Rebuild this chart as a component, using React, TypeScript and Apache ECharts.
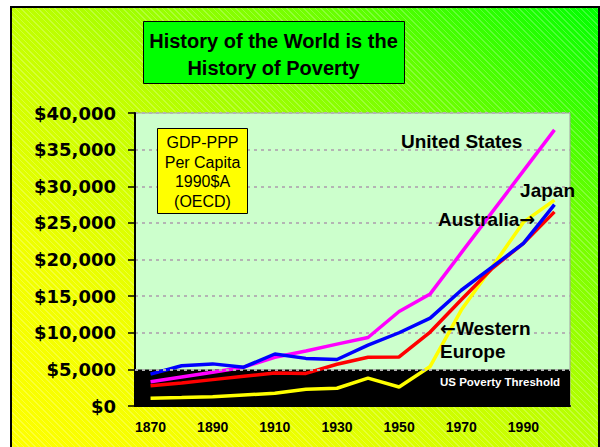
import React, { useEffect, useRef } from "react";
import * as echarts from "echarts";

// ---- Data ----
const years = ["1870", "1880", "1890", "1900", "1910", "1920", "1930", "1940", "1950", "1960", "1970", "1980", "1990", "2000"];
const unitedStates = [3320, 3970, 4620, 5300, 6650, 7500, 8450, 9350, 12900, 15300, 20900, 26500, 32100, 37700];
const westernEurope = [2750, 3150, 3600, 4050, 4500, 4450, 5700, 6650, 6700, 10100, 14500, 18800, 22200, 26500];
const australia = [4350, 5500, 5750, 5300, 7100, 6500, 6350, 8300, 10000, 12000, 15800, 19000, 22200, 27500];
const japan = [1050, 1150, 1270, 1500, 1730, 2280, 2420, 3800, 2600, 5400, 13100, 19000, 25100, 28100];
const povertyThreshold = 5000;
const yMin = 0;
const yMax = 40000;
const yStep = 5000;

const titleLines = ["History of the World is the", "History of Poverty"];
const noteLines = ["GDP-PPP", "Per Capita", "1990$A", "(OECD)"];

const ARIAL = "'Liberation Sans', Arial, sans-serif";
const ARROW_RICH = { arr: { fontFamily: "'DejaVu Sans', sans-serif", fontWeight: "bold", fontSize: 19, fill: "#000" } };

export default function App() {
  const ref = useRef<HTMLDivElement>(null);

  useEffect(() => {
    if (!ref.current) return;
    const chart = echarts.init(ref.current, undefined, { renderer: "svg" });
    const lineSeries = (name: string, data: number[], color: string) => ({
      name,
      type: "line",
      data,
      z: 3,
      symbol: "none",
      lineStyle: { color, width: 3.5 },
      itemStyle: { color },
    });
    chart.setOption({
      animation: false,
      backgroundColor: "transparent",
      grid: {
        left: 135,
        right: 30,
        top: 113,
        bottom: 41,
        show: true,
        backgroundColor: "#CCFFCC",
        borderColor: "#A0A0A0",
        borderWidth: 1,
        outerBoundsMode: "none",
        containLabel: false,
      },
      xAxis: {
        type: "category",
        data: years,
        boundaryGap: true,
        axisLine: { lineStyle: { color: "#000", width: 2 } },
        axisTick: { show: false },
        axisLabel: {
          interval: 1,
          margin: 14,
          fontFamily: ARIAL,
          fontWeight: "bold",
          fontSize: 14,
          color: "#000",
        },
        splitLine: { show: false },
      },
      yAxis: {
        type: "value",
        min: yMin,
        max: yMax,
        interval: yStep,
        axisLine: { show: true, lineStyle: { color: "#000", width: 2 } },
        axisTick: { show: true, length: 7, lineStyle: { color: "#000", width: 1.5 } },
        axisLabel: {
          margin: 19,
          fontFamily: "'DejaVu Sans', sans-serif",
          fontWeight: "bold",
          fontSize: 18,
          color: "#000",
          formatter: (v: number) => "$" + v.toLocaleString("en-US"),
        },
        splitLine: { show: true, lineStyle: { color: "#B4B4B4", type: [3, 4], width: 2 } },
      },
      series: [
        {
          name: "band",
          type: "line",
          data: japan,
          z: 1,
          silent: true,
          symbol: "none",
          lineStyle: { opacity: 0 },
          markArea: {
            silent: true,
            itemStyle: { color: "#000000", opacity: 1 },
            data: [[{ yAxis: yMin }, { yAxis: povertyThreshold }]],
          },
          markLine: {
            silent: true,
            symbol: "none",
            label: { show: false },
            lineStyle: { color: "#B4B4B4", type: [3, 4], width: 2 },
            data: [{ yAxis: povertyThreshold }],
          },
        },
        lineSeries("Japan", japan, "#FFFF00"),
        lineSeries("Western Europe", westernEurope, "#FF0000"),
        lineSeries("United States", unitedStates, "#FF00FF"),
        lineSeries("Australia", australia, "#0000FF"),
      ],
      graphic: [
        {
          type: "rect",
          z: 10,
          shape: { x: 143.5, y: 21.5, width: 261, height: 62 },
          style: { fill: "#00FF00", stroke: "#000", lineWidth: 1 },
        },
        {
          type: "text",
          z: 11,
          x: 273.5,
          y: 54.5,
          style: {
            text: titleLines.join("\n"),
            font: `bold 20px ${ARIAL}`,
            fill: "#000",
            align: "center",
            verticalAlign: "middle",
            lineHeight: 27,
          },
        },
        {
          type: "rect",
          z: 10,
          shape: { x: 157.5, y: 128.5, width: 90, height: 85 },
          style: { fill: "#FFFF00", stroke: "#000", lineWidth: 1 },
        },
        {
          type: "text",
          z: 11,
          x: 202.5,
          y: 172,
          style: {
            text: noteLines.join("\n"),
            font: `16px ${ARIAL}`,
            fill: "#000",
            align: "center",
            verticalAlign: "middle",
            lineHeight: 19.5,
          },
        },
        {
          type: "text",
          z: 11,
          x: 401,
          y: 141,
          style: { text: "United States", font: `bold 19px ${ARIAL}`, fill: "#000", align: "left", verticalAlign: "middle" },
        },
        {
          type: "text",
          z: 11,
          x: 575,
          y: 190,
          style: { text: "Japan", font: `bold 19px ${ARIAL}`, fill: "#000", align: "right", verticalAlign: "middle" },
        },
        {
          type: "text",
          z: 11,
          x: 438,
          y: 219,
          style: {
            text: "Australia{arr|\u2192}",
            font: `bold 19px ${ARIAL}`,
            fill: "#000",
            align: "left",
            verticalAlign: "middle",
            rich: ARROW_RICH,
          },
        },
        {
          type: "text",
          z: 11,
          x: 440,
          y: 328,
          style: {
            text: "{arr|\u2190}Western",
            font: `bold 19px ${ARIAL}`,
            fill: "#000",
            align: "left",
            verticalAlign: "middle",
            rich: ARROW_RICH,
          },
        },
        {
          type: "text",
          z: 11,
          x: 440,
          y: 351,
          style: { text: "Europe", font: `bold 19px ${ARIAL}`, fill: "#000", align: "left", verticalAlign: "middle" },
        },
        {
          type: "text",
          z: 11,
          x: 440,
          y: 382,
          style: { text: "US Poverty Threshold", font: `bold 11.5px ${ARIAL}`, fill: "#FFFFFF", align: "left", verticalAlign: "middle" },
        },
      ],
    });
    return () => chart.dispose();
  }, []);

  return (
    <div style={{ position: "fixed", left: 0, top: 0, width: 600, height: 447, background: "#FFFFFF", overflow: "hidden" }}>
      <div
        style={{
          position: "absolute",
          left: 10,
          top: 6,
          width: 590,
          height: 460,
          boxSizing: "border-box",
          border: "2px solid #000",
          background:
            "repeating-linear-gradient(45deg, rgba(255,255,255,0.22) 0px, rgba(255,255,255,0.22) 1px, rgba(255,255,255,0) 1px, rgba(255,255,255,0) 4px), linear-gradient(to top right, #FFFF00 0%, #F0FF00 25%, #C0FF00 50%, #70FF00 75%, #00FF00 100%)",
        }}
      />
      <div ref={ref} style={{ position: "absolute", left: 0, top: 0, width: 600, height: 447 }} />
    </div>
  );
}
